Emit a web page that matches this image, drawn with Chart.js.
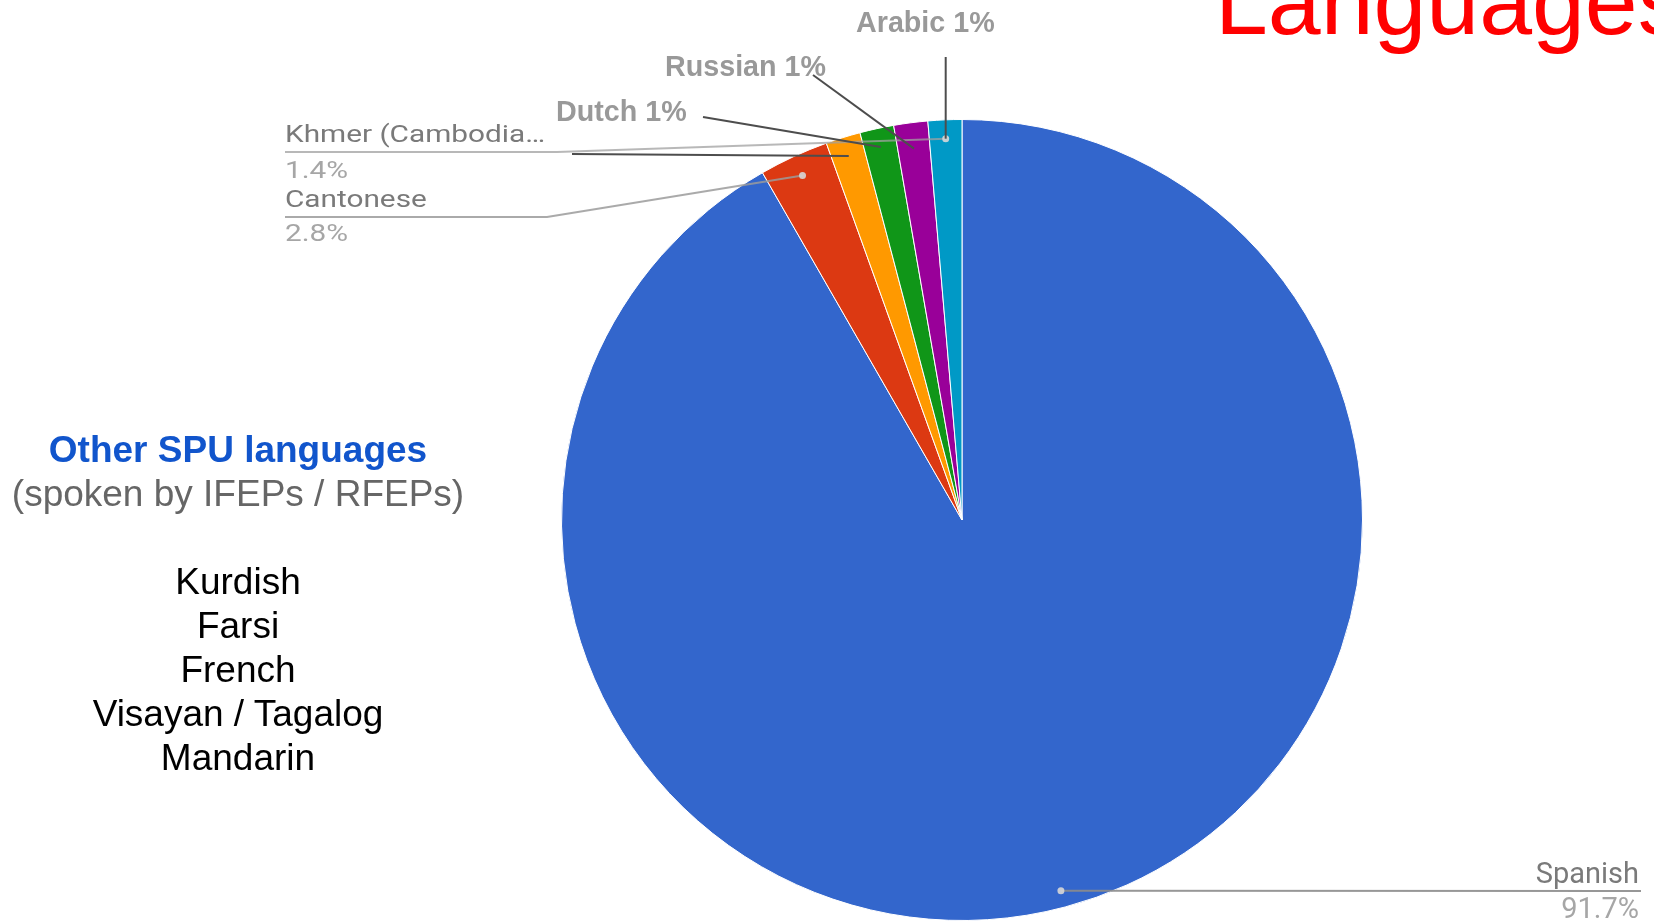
<!DOCTYPE html>
<html>
<head>
<meta charset="utf-8">
<script src="https://cdn.jsdelivr.net/npm/chart.js@4/dist/chart.umd.min.js"></script>
<style>
  html, body { margin: 0; padding: 0; background: #ffffff; overflow: hidden; }
  #wrap { position: relative; width: 1654px; height: 922px; overflow: hidden; }
  #chart { position: absolute; left: 0; top: 0; }
  #title { position: absolute; left: 1215px; top: -46px; font: 95px/95px "Liberation Sans", Arial, sans-serif; color: #ff0000; white-space: nowrap; }
  #side { position: absolute; left: 0; top: 427.5px; width: 476px; text-align: center; font: 37px/44px "Liberation Sans", Arial, sans-serif; color: #000000; white-space: nowrap; }
  #side .head { color: #1155cc; font-weight: bold; }
  #side .sub { color: #666666; }
</style>
</head>
<body>
<div id="wrap">
  <canvas id="chart" width="1654" height="922"></canvas>
  <div id="title">Languages</div>
  <div id="side"></div>
</div>
<script>
// ---- data ----
const languages = ['Spanish', 'Cantonese', 'Khmer (Cambodian)', 'Dutch', 'Russian', 'Arabic'];
const shares = [91.7, 2.8, 1.4, 1.37, 1.37, 1.36];
const sliceColors = ['#3366cc', '#dc3912', '#ff9900', '#109618', '#990099', '#0099c6'];
const otherHeading = 'Other SPU languages';
const otherSubheading = '(spoken by IFEPs / RFEPs)';
const otherLanguages = ['Kurdish', 'Farsi', 'French', 'Visayan / Tagalog', 'Mandarin'];

// side text block
(function () {
  const side = document.getElementById('side');
  const lines = [];
  lines.push('<div class="head">' + otherHeading + '</div>');
  lines.push('<div class="sub">' + otherSubheading + '</div>');
  lines.push('<div>&nbsp;</div>');
  otherLanguages.forEach(l => lines.push('<div>' + l + '</div>'));
  side.innerHTML = lines.join('');
})();

const total = shares.reduce((a, b) => a + b, 0);
const pct = i => shares[i] / total * 100;

function truncate(s, n) { return s.length > n ? s.slice(0, n) + '\u2026' : s; }

const labelPlugin = {
  id: 'sliceLabels',
  afterDatasetsDraw(chart) {
    const ctx = chart.ctx;
    const arcs = chart.getDatasetMeta(0).data;
    const anchor = (i, f) => {
      const a = arcs[i];
      const mid = (a.startAngle + a.endAngle) / 2;
      return { x: a.x + Math.cos(mid) * a.outerRadius * f, y: a.y + Math.sin(mid) * a.outerRadius * f };
    };
    const line = (pts, color, w) => {
      ctx.save();
      ctx.strokeStyle = color; ctx.lineWidth = w; ctx.lineJoin = 'round';
      ctx.beginPath();
      pts.forEach((p, k) => k ? ctx.lineTo(p.x, p.y) : ctx.moveTo(p.x, p.y));
      ctx.stroke();
      ctx.restore();
    };
    const dot = p => {
      ctx.save();
      ctx.fillStyle = 'rgba(215,215,215,0.9)';
      ctx.beginPath(); ctx.arc(p.x, p.y, 3.5, 0, Math.PI * 2); ctx.fill();
      ctx.restore();
    };
    const stretched = (text, x, y, size, color, sx, align) => {
      ctx.save();
      ctx.font = size + 'px Roboto, "Noto Sans", sans-serif';
      ctx.fillStyle = color;
      ctx.textBaseline = 'alphabetic';
      ctx.translate(x, y);
      ctx.scale(sx, 1);
      ctx.textAlign = align || 'left';
      ctx.fillText(text, 0, 0);
      ctx.restore();
    };

    const aSpanish = anchor(0, 0.958);
    const aCanto = anchor(1, 0.948);
    const aKhmer = anchor(2, 0.952);
    const aDutch = anchor(3, 0.953);
    const aRussian = anchor(4, 0.935);
    const aArabic = anchor(5, 0.953);

    // Google-style leader lines (light)
    line([{x: 285, y: 152}, {x: 557, y: 152}, aArabic], 'rgba(160,160,160,0.75)', 2);
    line([{x: 285, y: 217}, {x: 547, y: 217}, aCanto], 'rgba(155,155,155,0.85)', 2);
    line([aSpanish, {x: 1641, y: 891}], 'rgba(140,140,140,0.9)', 2);
    dot(aCanto); dot(aArabic); dot(aSpanish);

    // Google-style labels
    stretched(truncate(languages[2], 15), 285, 141.5, 24, '#7a7a7a', 1.24);
    stretched(pct(2).toFixed(1) + '%', 285, 178, 24, '#a6a6a6', 1.24);
    stretched(languages[1], 285, 206.5, 24, '#7a7a7a', 1.24);
    stretched(pct(1).toFixed(1) + '%', 285, 240.5, 24, '#a6a6a6', 1.24);
    stretched(languages[0], 1639, 883, 29, '#7a7a7a', 1.0, 'right');
    stretched(pct(0).toFixed(1) + '%', 1639, 918, 29, '#a6a6a6', 1.0, 'right');

    // manual dark leader lines
    line([{x: aArabic.x, y: 57}, aArabic], '#4d4d4d', 2);
    line([{x: 813, y: 75}, aRussian], '#4d4d4d', 2);
    line([{x: 703, y: 117}, aDutch], '#4d4d4d', 2);
    line([{x: 572, y: 154}, aKhmer], '#4d4d4d', 2);

    // bold labels
    ctx.save();
    ctx.font = 'bold 28.7px "Liberation Sans", Arial, sans-serif';
    ctx.fillStyle = '#999999';
    ctx.textAlign = 'left';
    ctx.textBaseline = 'alphabetic';
    ctx.fillText(languages[5] + ' ' + Math.round(pct(5)) + '%', 856, 32);
    ctx.fillText(languages[4] + ' ' + Math.round(pct(4)) + '%', 665, 76);
    ctx.fillText(languages[3] + ' ' + Math.round(pct(3)) + '%', 556, 120.5);
    ctx.restore();
  }
};

new Chart(document.getElementById('chart'), {
  type: 'pie',
  data: {
    labels: languages,
    datasets: [{
      data: shares,
      backgroundColor: sliceColors,
      borderColor: '#ffffff',
      borderWidth: 1,
      hoverOffset: 0
    }]
  },
  options: {
    responsive: false,
    devicePixelRatio: 1,
    animation: false,
    events: [],
    layout: { padding: { left: 561, right: 291, top: 119, bottom: 1 } },
    plugins: { legend: { display: false }, tooltip: { enabled: false }, title: { display: false } }
  },
  plugins: [labelPlugin]
});
</script>
</body>
</html>
